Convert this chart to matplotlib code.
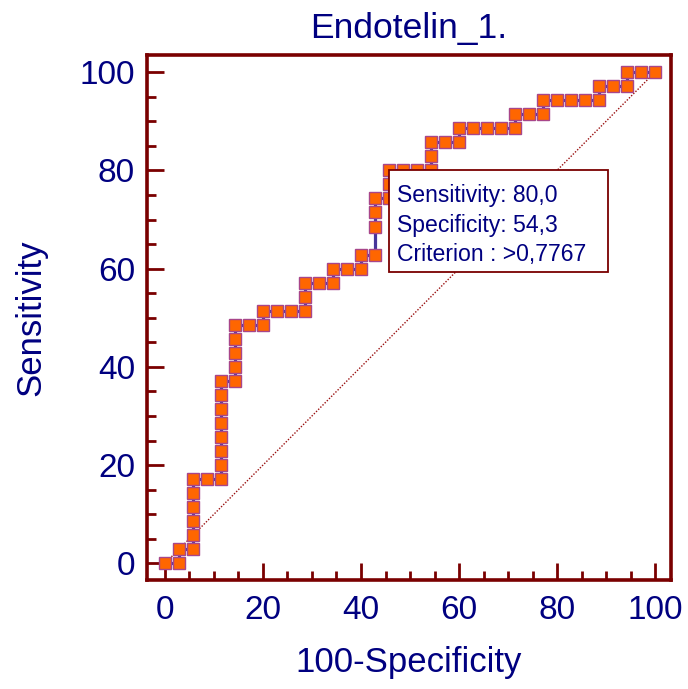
import matplotlib
matplotlib.use("Agg")
import matplotlib.pyplot as plt
from matplotlib.patches import Rectangle
from matplotlib.ticker import MultipleLocator

plt.rcParams['font.family'] = ['Liberation Sans', 'DejaVu Sans']

# ROC curve for Endotelin_1: cumulative false-positive / true-positive counts
n_negative = 35
n_positive = 35
fp_counts = [0, 1, 1, 2, 2, 2, 2, 2, 2, 3, 4, 4, 4, 4, 4, 4, 4, 4, 5, 5, 5, 5, 5,
             6, 7, 7, 8, 9, 10, 10, 10, 11, 12, 12, 13, 14, 14, 15, 15, 15, 15,
             16, 16, 16, 17, 18, 19, 19, 19, 20, 21, 21, 22, 23, 24, 25, 25, 26,
             27, 27, 28, 29, 30, 31, 31, 32, 33, 33, 34, 35]
tp_counts = [0, 0, 1, 1, 2, 3, 4, 5, 6, 6, 6, 7, 8, 9, 10, 11, 12, 13, 13, 14, 15, 16, 17,
             17, 17, 18, 18, 18, 18, 19, 20, 20, 20, 21, 21, 21, 22, 22, 24, 25, 26,
             26, 27, 28, 28, 28, 28, 29, 30, 30, 30, 31, 31, 31, 31, 31, 32, 32,
             32, 33, 33, 33, 33, 33, 34, 34, 34, 35, 35, 35]

one_minus_spec = [100.0 * c / n_negative for c in fp_counts]
sensitivity = [100.0 * c / n_positive for c in tp_counts]

# Optimal criterion
crit_sens = 80.0
crit_spec = 54.3
crit_label = ">0,7767"

title = "Endotelin_1."
x_label = "100-Specificity"
y_label = "Sensitivity"

navy = "#000080"
maroon = "#7a0000"

fig = plt.figure(figsize=(6.88, 6.89), dpi=100)
ax = fig.add_axes([0.2132, 0.1582, 0.7617, 0.7620])

# chance diagonal
ax.plot([0, 100], [0, 100], linestyle=(0, (1, 1.2)), color="#9a1010", linewidth=1.0, zorder=1)

# ROC curve
ax.plot(one_minus_spec, sensitivity, color="#47369a", linewidth=2.3, zorder=2)
ax.plot(one_minus_spec, sensitivity, linestyle="none", marker="s", markersize=8.6,
        markerfacecolor="#ff6600", markeredgecolor="#a8468a", markeredgewidth=1.0, zorder=3)

# criterion box, top-left corner on the optimal point
cx, cy = 100 - crit_spec, crit_sens
ax.add_patch(Rectangle((cx, cy - 20.6), 44.7, 20.6, facecolor="white", edgecolor=maroon,
                       linewidth=1.3, zorder=4))
box_lines = [
    f"Sensitivity: {crit_sens:.1f}".replace(".", ","),
    f"Specificity: {crit_spec:.1f}".replace(".", ","),
    f"Criterion : {crit_label}",
]
for k, line in enumerate(box_lines):
    ax.annotate(line, xy=(cx, cy), xytext=(8, -32 - 29.5 * k), textcoords="offset pixels",
                ha="left", va="baseline", fontsize=16.6, color=navy, zorder=5)

ax.set_xlim(-3.73, 103.2)
ax.set_ylim(-3.4, 103.5)

ax.xaxis.set_major_locator(MultipleLocator(20))
ax.xaxis.set_minor_locator(MultipleLocator(5))
ax.yaxis.set_major_locator(MultipleLocator(20))
ax.yaxis.set_minor_locator(MultipleLocator(5))
ax.tick_params(which="both", direction="in", color=maroon, top=False, right=False)
ax.tick_params(which="major", length=12.5, width=2.0, labelsize=24, labelcolor=navy)
ax.tick_params(axis="x", which="major", pad=11)
ax.tick_params(axis="y", which="major", pad=8.5)
ax.tick_params(which="minor", length=6.5, width=2.0)

for side in ("left", "bottom", "top", "right"):
    ax.spines[side].set_color(maroon)
    ax.spines[side].set_linewidth(2.6)

ax.set_title(title, fontsize=25.5, color=navy, pad=12)
ax.set_xlabel(x_label, fontsize=25, color=navy, labelpad=14)
ax.set_ylabel(y_label, fontsize=25, color=navy, labelpad=23)

fig.savefig("out.png", dpi=100)
